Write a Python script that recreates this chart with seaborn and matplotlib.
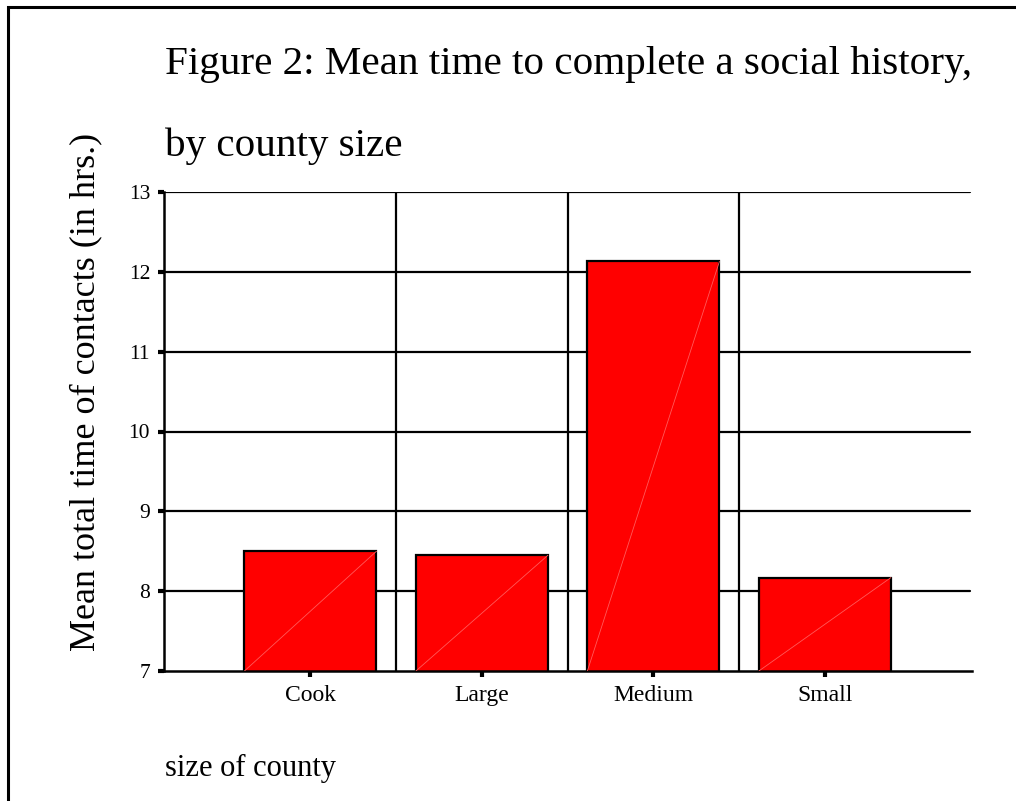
import matplotlib
matplotlib.use("Agg")
import matplotlib.pyplot as plt
import seaborn as sns
import pandas as pd
from matplotlib.patches import Rectangle

counties = ["Cook", "Large", "Medium", "Small"]
mean_hours = [8.50, 8.45, 12.13, 8.17]
y_ticks = [7, 8, 9, 10, 11, 12, 13]

title_line1 = "Figure 2: Mean time to complete a social history,"
title_line2 = "by county size"
y_label = "Mean total time of contacts (in hrs.)"
x_label = "size of county"

sns.set_theme(style="white")
plt.rcParams["font.family"] = ["Liberation Serif", "DejaVu Serif"]

df = pd.DataFrame({"county": counties, "hours": mean_hours})

fig = plt.figure(figsize=(10.16, 8.01), dpi=100)
W, H = 1016, 801
ax = fig.add_axes([164 / W, 1 - 671 / H, (972 - 164) / W, (671 - 192) / H])

# grid lines behind bars
for yv in y_ticks[1:]:
    ax.axhline(yv, xmin=0, xmax=(970 - 164) / (972 - 164), color="black", lw=1.6, zorder=0)
for xv in [0.5, 1.5, 2.5]:
    ax.axvline(xv, color="black", lw=1.6, zorder=0)

sns.barplot(data=df, x="county", y="hours", order=counties, color="#ff0000",
            saturation=1, edgecolor="black", linewidth=1.6, width=0.77, ax=ax, zorder=2)

# faint diagonal artifact inside each bar
for p in ax.patches:
    x0, y0 = p.get_x(), p.get_y()
    w, h = p.get_width(), p.get_height()
    ax.plot([x0, x0 + w], [7, y0 + h], color="#ff5a5a", lw=0.6, zorder=3)

ax.set_ylim(7, 13)
ax.set_xlim(-0.854, 3.858)
ax.set_yticks(y_ticks)
ax.set_xlabel("")
ax.set_ylabel("")

for s in ["top", "right"]:
    ax.spines[s].set_visible(False)
for s in ["left", "bottom"]:
    ax.spines[s].set_color("black")
    ax.spines[s].set_linewidth(1.8)

ax.tick_params(axis="y", direction="out", length=4, width=3, color="black",
               labelsize=15.5, pad=6, left=True)
ax.tick_params(axis="x", direction="out", length=4, width=3, color="black",
               labelsize=17, pad=6, bottom=True)
for lab in ax.get_xticklabels() + ax.get_yticklabels():
    lab.set_color("black")

fig.text(165 / W, 1 - 74 / H, title_line1, fontsize=29.6, ha="left", va="baseline", color="black")
fig.text(165 / W, 1 - 156 / H, title_line2, fontsize=29.6, ha="left", va="baseline", color="black")
fig.text(86 / W, 1 - 392 / H, y_label, fontsize=26, rotation=90, ha="center", va="center", color="black")
fig.text(165 / W, 1 - 776 / H, x_label, fontsize=22, ha="left", va="baseline", color="black")

# figure border (left, top, right beyond edge)
fig.add_artist(Rectangle((8 / W, -0.05), 1.2, 1 - 7 / H + 0.05, transform=fig.transFigure,
                         fill=False, edgecolor="black", lw=2.2))

fig.savefig("out.png", dpi=100)
